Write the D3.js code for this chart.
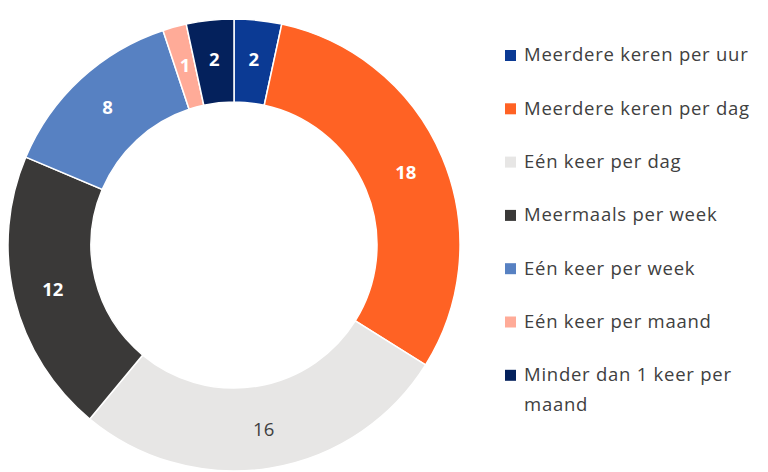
<!DOCTYPE html>
<html>
<head>
  <script src="https://d3js.org/d3.v7.min.js"></script>
  <style>
    body { margin: 0; background: #fff; }
  </style>
</head>
<body>
  <div id="chart"></div>
  <script>
    var categories = ["Meerdere keren per uur", "Meerdere keren per dag", "Eén keer per dag",
      "Meermaals per week", "Eén keer per week", "Eén keer per maand", "Minder dan 1 keer per maand"];
    var values = [2, 18, 16, 12, 8, 1, 2];
    var colors = ["#0b3a94", "#ff6224", "#e7e6e5", "#3a3938", "#5781c2", "#ffab98", "#04215c"];
    var labelColors = ["#fff", "#fff", "#404040", "#fff", "#fff", "#fff", "#fff"];

    var width = 768, height = 472;
    var cx = 234, cy = 245, outerR = 226, innerR = 143;
    var fontFamily = "'Open Sans', sans-serif";

    var svg = d3.select("#chart").append("svg")
      .attr("width", width)
      .attr("height", height);

    var data = categories.map((c, i) => ({ name: c, value: values[i], color: colors[i], lc: labelColors[i] }));

    var pie = d3.pie().sort(null).value(d => d.value);
    var arc = d3.arc().innerRadius(innerR).outerRadius(outerR);
    var labelArc = d3.arc().innerRadius((innerR + outerR) / 2 + 2).outerRadius((innerR + outerR) / 2 + 2);

    var g = svg.append("g").attr("transform", "translate(" + cx + "," + cy + ")");

    var arcs = g.selectAll(".arc")
      .data(pie(data))
      .enter().append("g")
      .attr("class", "arc");

    arcs.append("path")
      .attr("d", arc)
      .attr("fill", d => d.data.color)
      .attr("stroke", "#fff")
      .attr("stroke-width", 1.5);

    arcs.append("text")
      .attr("transform", d => "translate(" + labelArc.centroid(d) + ")")
      .attr("text-anchor", "middle")
      .attr("dy", "0.35em")
      .attr("fill", d => d.data.lc)
      .style("font-family", fontFamily)
      .style("font-size", "18.5px")
      .style("font-weight", d => d.data.lc === "#fff" ? "bold" : "normal")
      .text(d => d.data.value);

    // legend
    var legend = svg.append("g").attr("transform", "translate(505,0)");
    var rowY = d3.scaleLinear().domain([0, 1]).range([55, 108.3]);

    var items = legend.selectAll(".item")
      .data(data)
      .enter().append("g")
      .attr("class", "item")
      .attr("transform", (d, i) => "translate(0," + rowY(i) + ")");

    items.append("rect")
      .attr("x", 0)
      .attr("y", -5)
      .attr("width", 11)
      .attr("height", 11)
      .attr("fill", d => d.color);

    items.append("text")
      .attr("x", 19)
      .attr("dy", "0.35em")
      .attr("fill", "#404040")
      .style("font-family", fontFamily)
      .style("font-size", "18.5px")
      .style("letter-spacing", "0.75px")
      .each(function(d) {
        var t = d3.select(this);
        if (d.name === "Minder dan 1 keer per maand") {
          t.append("tspan").attr("x", 19).text("Minder dan 1 keer per");
          t.append("tspan").attr("x", 19).attr("dy", "1.6em").text("maand");
        } else {
          t.text(d.name);
        }
      });
  </script>
</body>
</html>
